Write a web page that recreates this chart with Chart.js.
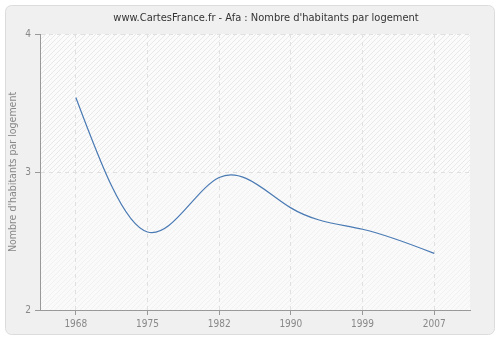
<!DOCTYPE html>
<html>
<head>
    <meta charset="utf-8">
    <title>Afa : Nombre d'habitants par logement</title>
    <script src="https://cdn.jsdelivr.net/npm/chart.js"></script>
    <style>
        html, body { margin: 0; padding: 0; background: #ffffff; }
        #wrap { width: 500px; height: 340px; }
    </style>
</head>
<body>
    <div id="wrap"><canvas id="chart" width="500" height="340"></canvas></div>
    <script>
        var years = ['1968', '1975', '1982', '1990', '1999', '2007'];
        var habitantsParLogement = [3.54, 2.565, 2.96, 2.74, 2.585, 2.41];
        var yTicks = [2, 3, 4];

        var police = '"DejaVu Sans Condensed", "DejaVu Sans", Verdana, sans-serif';

        function hatch(lineColor, bgColor) {
            var c = document.createElement('canvas');
            c.width = 5; c.height = 5;
            var g = c.getContext('2d');
            g.fillStyle = bgColor;
            g.fillRect(0, 0, 5, 5);
            g.strokeStyle = lineColor;
            g.lineWidth = 1;
            g.beginPath();
            g.moveTo(0, 5); g.lineTo(5, 0);
            g.moveTo(-1, 1); g.lineTo(1, -1);
            g.moveTo(4, 6); g.lineTo(6, 4);
            g.stroke();
            return g.createPattern(c, 'repeat');
        }

        // fond du cadre + zone hachuree
        var backgroundPlugin = {
            id: 'fond',
            beforeDraw: function(chart) {
                var ctx = chart.ctx;
                var a = chart.chartArea;
                ctx.save();
                ctx.fillStyle = '#f0f0f0';
                ctx.strokeStyle = '#dcdcdc';
                ctx.lineWidth = 1;
                ctx.beginPath();
                ctx.roundRect(5.5, 5.5, 489, 329, 6);
                ctx.fill();
                ctx.stroke();
                var y3 = chart.scales.y.getPixelForValue(3);
                ctx.fillStyle = hatch('#e9e9e9', '#fbfbfb');
                ctx.fillRect(a.left, a.top, a.right - a.left, y3 - a.top);
                ctx.fillStyle = hatch('#f1f1f1', '#fafafa');
                ctx.fillRect(a.left, y3, a.right - a.left, a.bottom - y3);
                ctx.restore();
            }
        };

        var titlePlugin = {
            id: 'titre',
            afterDraw: function(chart) {
                var ctx = chart.ctx;
                ctx.save();
                ctx.font = '11px ' + police;
                ctx.fillStyle = '#333333';
                ctx.textAlign = 'center';
                ctx.textBaseline = 'middle';
                ctx.fillText("www.CartesFrance.fr - Afa : Nombre d'habitants par logement", 266, 18);
                ctx.restore();
            }
        };

        // spline cubique naturelle : remplace les points de controle calcules par Chart.js
        var splinePlugin = {
            id: 'splineNaturelle',
            beforeDatasetDraw: function(chart, args) {
                var line = args.meta.dataset;
                var pts = args.meta.data;
                var n = pts.length;
                if (n < 3) return;
                line.updateControlPoints(chart.chartArea, 'x');
                var h = [], i;
                for (i = 0; i < n - 1; i++) h.push(pts[i + 1].x - pts[i].x);
                var M = new Array(n).fill(0);
                var cp = [], dp = [];
                cp[0] = 0; dp[0] = 0;
                for (i = 1; i < n - 1; i++) {
                    var a = h[i - 1], b = 2 * (h[i - 1] + h[i]), c = h[i];
                    var d = 6 * ((pts[i + 1].y - pts[i].y) / h[i] - (pts[i].y - pts[i - 1].y) / h[i - 1]);
                    var den = b - a * cp[i - 1];
                    cp[i] = c / den;
                    dp[i] = (d - a * dp[i - 1]) / den;
                }
                for (i = n - 2; i >= 1; i--) M[i] = dp[i] - cp[i] * M[i + 1];
                for (i = 0; i < n - 1; i++) {
                    var p0 = pts[i], p1 = pts[i + 1];
                    var slope = (p1.y - p0.y) / h[i];
                    var s0 = slope - h[i] * (2 * M[i] + M[i + 1]) / 6;
                    var s1 = slope + h[i] * (M[i] + 2 * M[i + 1]) / 6;
                    p0.cp2x = p0.x + h[i] / 3;
                    p0.cp2y = p0.y + s0 * h[i] / 3;
                    p1.cp1x = p1.x - h[i] / 3;
                    p1.cp1y = p1.y - s1 * h[i] / 3;
                }
                line._path = undefined;
            }
        };

        var gridOpts = {
            color: '#e0e0e0',
            tickColor: '#999999',
            tickBorderDash: [1, 0],
            tickLength: 5
        };

        var ctx = document.getElementById('chart').getContext('2d');
        var myChart = new Chart(ctx, {
            type: 'line',
            data: {
                labels: years,
                datasets: [{
                    label: "Nombre d'habitants par logement",
                    data: habitantsParLogement,
                    borderColor: '#4a7ab4',
                    borderWidth: 1.2,
                    pointRadius: 0,
                    fill: false,
                    tension: 0.4
                }]
            },
            options: {
                responsive: false,
                animation: false,
                layout: { padding: { top: 34, right: 30, left: 0, bottom: 0 } },
                plugins: {
                    legend: { display: false },
                    tooltip: { enabled: false }
                },
                scales: {
                    x: {
                        offset: true,
                        grid: Object.assign({ offset: false }, gridOpts),
                        border: { color: '#999999', width: 1, dash: [4, 4] },
                        ticks: {
                            color: '#888888',
                            font: { family: police, size: 10 },
                            padding: 3
                        },
                        afterFit: function(scale) { scale.height = 30; }
                    },
                    y: {
                        min: 2,
                        max: 4,
                        afterBuildTicks: function(scale) {
                            scale.ticks = yTicks.map(function(v) { return { value: v }; });
                        },
                        grid: gridOpts,
                        border: { color: '#999999', width: 1, dash: [4, 4] },
                        ticks: {
                            color: '#888888',
                            font: { family: police, size: 10 },
                            padding: 4
                        },
                        title: {
                            display: true,
                            text: "Nombre d'habitants par logement",
                            color: '#888888',
                            font: { family: police, size: 10.5 },
                            padding: { top: 7, bottom: 0 }
                        },
                        afterFit: function(scale) { scale.width = 40; }
                    }
                }
            },
            plugins: [backgroundPlugin, splinePlugin, titlePlugin]
        });
    </script>
</body>
</html>
